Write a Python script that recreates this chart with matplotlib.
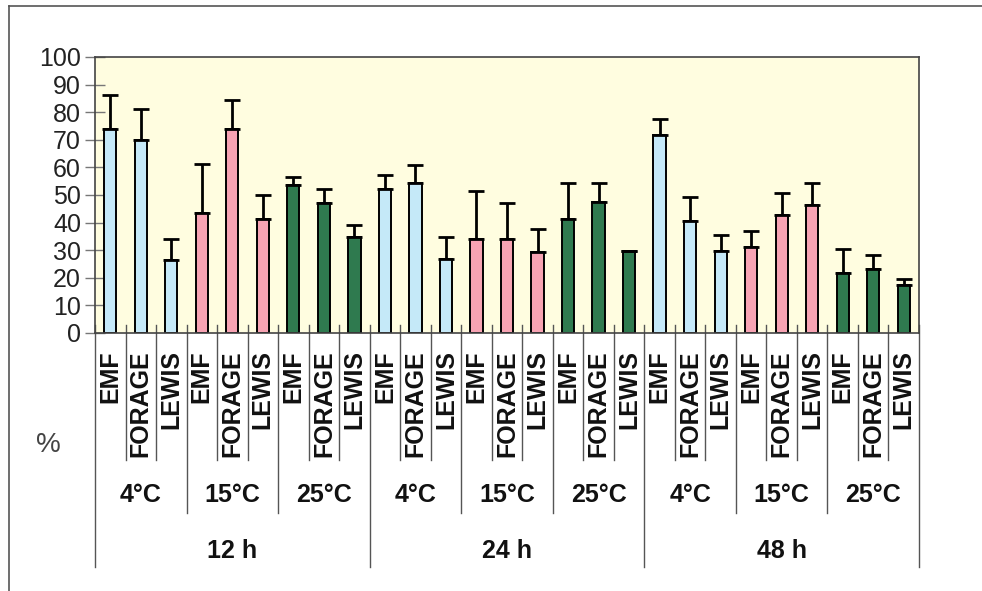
import numpy as np
import matplotlib
matplotlib.use('Agg')
import matplotlib.pyplot as plt
from matplotlib.lines import Line2D

plt.rcParams['font.family'] = ['Liberation Sans', 'DejaVu Sans']

hours = ['12 h', '24 h', '48 h']
temps = ['4°C', '15°C', '25°C']
products = ['EMF', 'FORAGE', 'LEWIS']

# mean values, in order 12h(4,15,25) 24h(...) 48h(...), each EMF/FORAGE/LEWIS
means = [74, 70, 26.3, 43.4, 74, 41.4, 53.7, 47.1, 34.9,
         52.2, 54.5, 26.8, 34.2, 34.2, 29.2, 41.3, 47.3, 29.8,
         71.7, 40.6, 29.8, 31.3, 42.9, 46.5, 21.9, 23.3, 17.5]
# top of error bars
err_top = [86.1, 81, 34.1, 61.4, 84.6, 50, 56.6, 52.3, 39.3,
           57.2, 60.9, 34.8, 51.6, 47.1, 37.8, 54.5, 54.5, 29.8,
           77.5, 49.4, 35.6, 37.1, 50.7, 54.5, 30.6, 28.4, 19.7]

temp_colors = ['#c5e9f8', '#f7a3b3', '#2f7a4f']

n = len(means)
x = np.arange(n)
colors = [temp_colors[(i // 3) % 3] for i in range(n)]
err = [t - m for t, m in zip(err_top, means)]

fig = plt.figure(figsize=(9.82, 5.91), dpi=100)
ax = fig.add_axes([95/982, 1-333/591, 824/982, 276/591])
ax.set_facecolor('#fffde0')

ax.bar(x, means, width=0.4, color=colors, edgecolor='black', linewidth=1.4, zorder=2)
ax.errorbar(x, means, yerr=[np.zeros(n), err], fmt='none', ecolor='black',
            elinewidth=2, capsize=5.5, capthick=2, zorder=3)

ax.set_xlim(-0.5, n - 0.5)
ax.set_ylim(0, 100)
ax.set_yticks(range(0, 101, 10))
ax.tick_params(axis='y', direction='inout', length=14, width=1, color='#777777',
               labelsize=18, pad=3, labelcolor='#222222')
ax.set_xticks([])
for s in ax.spines.values():
    s.set_color('#444444')
    s.set_linewidth(1.2)

# category separators below the axis
trans = ax.get_xaxis_transform()
def ypx(py):
    # convert figure pixel row to axes fraction
    return (333 - py) / 276

for b in range(n + 1):
    xb = b - 0.5
    if b % 9 == 0:
        y_end = 567
    elif b % 3 == 0:
        y_end = 513
    else:
        y_end = 460
    ax.add_line(Line2D([xb, xb], [ypx(325), ypx(y_end)], transform=trans,
                       color='#555555', linewidth=1, clip_on=False))

for i in range(n):
    ax.text(x[i], ypx(350), products[i % 3], transform=trans, rotation=90,
            ha='center', va='top', fontsize=18, fontweight='bold', color='#111111')

for g in range(9):
    ax.text(g * 3 + 1, ypx(495), temps[g % 3], transform=trans, ha='center',
            va='center', fontsize=18, fontweight='bold', color='#111111')

for h in range(3):
    ax.text(h * 9 + 4, ypx(551), hours[h], transform=trans, ha='center',
            va='center', fontsize=18, fontweight='bold', color='#111111')

fig.text(48/982, 1-445/591, '%', ha='center', va='center', fontsize=20, color='#444444')

# outer frame (top and left)
fig.add_artist(Line2D([9/982, 1], [1-6/591, 1-6/591], color='#555555', linewidth=1.2))
fig.add_artist(Line2D([9/982, 9/982], [0, 1-6/591], color='#555555', linewidth=1.2))

fig.savefig('out.png', dpi=100)
